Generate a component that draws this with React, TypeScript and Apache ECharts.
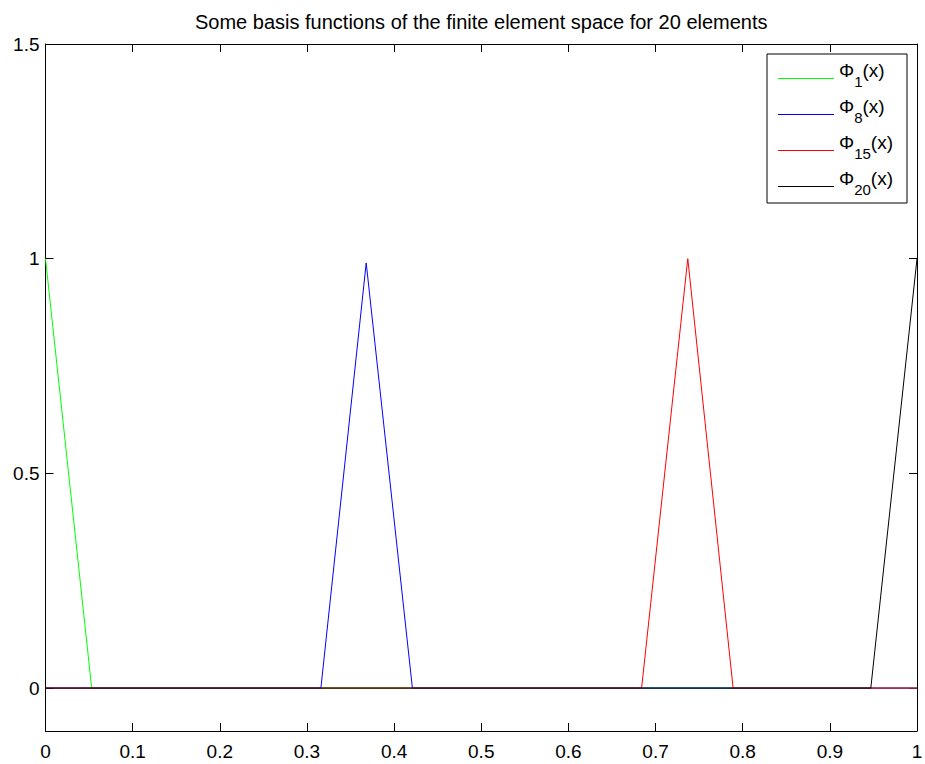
import React, { useEffect, useRef } from "react";
import * as echarts from "echarts";

// Nodal positions and values of the selected piecewise-linear hat functions
const nodesPhi1 = [0, 0.053, 1];
const valuesPhi1 = [1, 0, 0];
const nodesPhi8 = [0, 0.316, 0.368, 0.421, 1];
const valuesPhi8 = [0, 0, 0.99, 0, 0];
const nodesPhi15 = [0, 0.684, 0.737, 0.789, 1];
const valuesPhi15 = [0, 0, 1, 0, 0];
const nodesPhi20 = [0, 0.947, 1];
const valuesPhi20 = [0, 0, 1];

const seriesNames = ["Φ1(x)", "Φ8(x)", "Φ15(x)", "Φ20(x)"];
const seriesColors = ["#00ff00", "#0000ff", "#ff0000", "#000000"];
const yTickValues = [0, 0.5, 1, 1.5];

const titleText = "Some basis functions of the finite element space for 20 elements";
const FONT = "'Liberation Sans', Arial, Helvetica, sans-serif";

const pairs = (xs: number[], ys: number[]) => xs.map((x, i) => [x, ys[i]]);

export default function App() {
  const ref = useRef<HTMLDivElement>(null);

  useEffect(() => {
    if (!ref.current) return;
    const chart = echarts.init(ref.current, undefined, { renderer: "svg" });

    const curves = [
      pairs(nodesPhi1, valuesPhi1),
      pairs(nodesPhi8, valuesPhi8),
      pairs(nodesPhi15, valuesPhi15),
      pairs(nodesPhi20, valuesPhi20),
    ];

    const axisLine = { show: true, onZero: false, lineStyle: { color: "#000", width: 1 } };
    const tick = { show: true, inside: true, length: 8, lineStyle: { color: "#000", width: 1 } };

    chart.setOption({
      animation: false,
      backgroundColor: "#fff",
      title: {
        text: titleText,
        left: 195,
        top: 12,
        padding: 0,
        textStyle: { fontFamily: FONT, fontSize: 20, fontWeight: "normal", color: "#000" },
      },
      grid: { left: 45.5, right: 8, top: 44, bottom: 33, outerBoundsMode: "none" },
      xAxis: [
        {
          type: "value",
          position: "bottom",
          min: 0,
          max: 1,
          interval: 0.1,
          axisLine,
          axisTick: tick,
          splitLine: { show: false },
          axisLabel: { color: "#000", fontFamily: FONT, fontSize: 19, margin: 11 },
        },
        {
          type: "value",
          position: "top",
          min: 0,
          max: 1,
          interval: 0.1,
          axisLine,
          axisTick: tick,
          splitLine: { show: false },
          axisLabel: { show: false },
        },
      ],
      yAxis: [
        {
          type: "value",
          position: "left",
          min: -0.1,
          max: 1.5,
          axisLine,
          axisTick: { ...tick, customValues: yTickValues },
          splitLine: { show: false },
          axisLabel: {
            color: "#000",
            fontFamily: FONT,
            fontSize: 19,
            margin: 6,
            customValues: yTickValues,
          },
        },
        {
          type: "value",
          position: "right",
          min: -0.1,
          max: 1.5,
          axisLine,
          axisTick: { ...tick, customValues: yTickValues },
          splitLine: { show: false },
          axisLabel: { show: false },
        },
      ],
      legend: {
        orient: "vertical",
        right: 18,
        top: 54,
        backgroundColor: "#fff",
        borderColor: "#000",
        borderWidth: 1,
        borderRadius: 0,
        padding: [7, 14, 6, 11],
        itemWidth: 56,
        itemHeight: 12,
        itemGap: 8,
        icon: "path://M0,0H56V1H0Z",
        symbolKeepAspect: true,
        itemStyle: { borderWidth: 0 },
        selectedMode: false,
        data: seriesNames,
        formatter: (name: string) => {
          const m = name.match(/^Φ(\d+)\(x\)$/);
          return m ? `{a|Φ}{b|${m[1]}}{a|(x)}` : name;
        },
        textStyle: {
          color: "#000",
          fontFamily: FONT,
          rich: {
            a: { fontFamily: FONT, fontSize: 19, lineHeight: 35, verticalAlign: "top", color: "#000" },
            b: {
              fontFamily: FONT,
              fontSize: 15,
              lineHeight: 35,
              padding: [13, 0, 0, 0],
              verticalAlign: "top",
              color: "#000",
            },
          },
        },
      },
      series: curves.map((data, i) => ({
        name: seriesNames[i],
        type: "line",
        xAxisIndex: 0,
        yAxisIndex: 0,
        data,
        symbol: "none",
        showSymbol: false,
        lineStyle: { color: seriesColors[i], width: 1 },
        itemStyle: { color: seriesColors[i] },
        emphasis: { disabled: true },
        z: 2 + i,
      })),
    });

    return () => chart.dispose();
  }, []);

  return (
    <div
      ref={ref}
      style={{ position: "fixed", left: 0, top: 0, width: 925, height: 764 }}
    />
  );
}
